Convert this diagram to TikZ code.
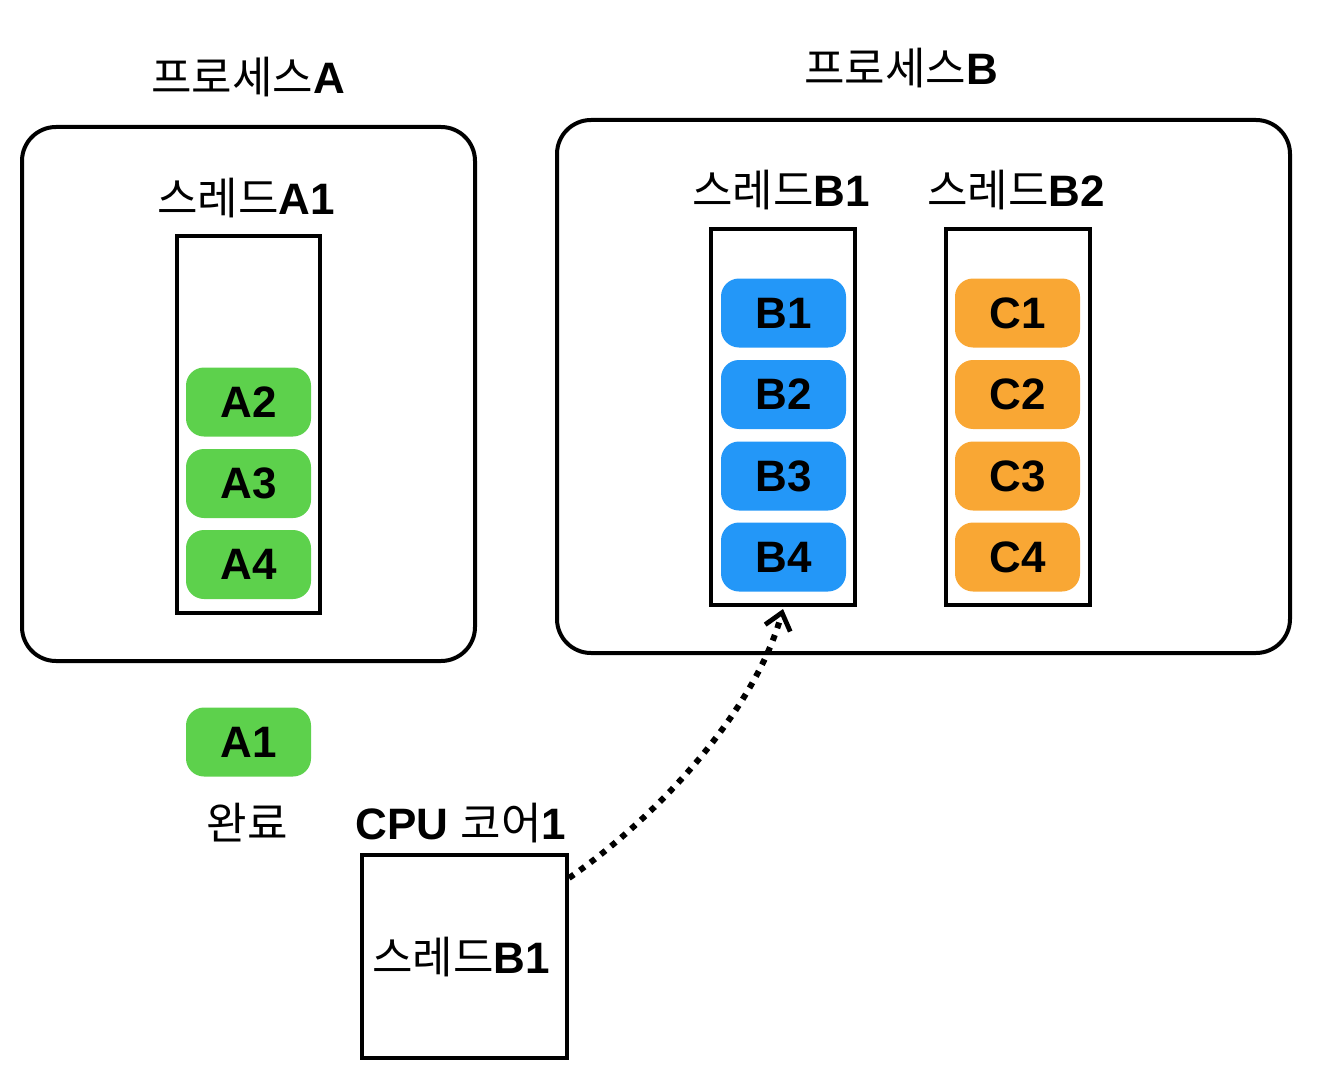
\documentclass[tikz,border=0pt]{standalone}
\usepackage{fontspec}
\setmainfont{Liberation Sans}
\newfontfamily\kr{Noto Sans CJK KR}
\newcommand{\K}[1]{{\kr\mdseries #1}}
\usetikzlibrary{arrows.meta}
\definecolor{gA}{HTML}{5DD14C}
\definecolor{bB}{HTML}{2397F8}
\definecolor{oC}{HTML}{F9A734}
\tikzset{
  lbl/.style={font=\fontsize{22}{26}\selectfont\bfseries, inner sep=0pt},
  procbox/.style={draw, line width=2pt, rounded corners=17pt, inner sep=0pt},
  thbox/.style={draw, line width=2pt, inner sep=0pt, minimum width=72pt, minimum height=188pt},
  pill/.style={rounded corners=9pt, inner sep=0pt, minimum width=62.5pt, minimum height=34.5pt,
    font=\fontsize{22}{26}\selectfont\bfseries},
  pillA/.style={pill, fill=gA},
  pillB/.style={pill, fill=bB},
  pillC/.style={pill, fill=oC},
}
\begin{document}
\begin{tikzpicture}[x=0.5pt,y=-0.5pt]
\useasboundingbox (0,0) rectangle (1318,1070);
% process A
\node[procbox, minimum width=226.5pt, minimum height=267pt] (pA) at (248.5,394) {};
\node[lbl] (tA) at (248,77) {\K{프로세스}A};
\node[lbl] (ttA1) at (246,198) {\K{스레드}A1};
\node[thbox, minimum width=71.5pt, minimum height=188.5pt] (thA1) at (248.5,424.5) {};
\node[pillA] (A2) at (248.5,402) {A2};
\node[pillA] (A3) at (248.5,483.5) {A3};
\node[pillA] (A4) at (248.5,564.5) {A4};
% process B
\node[procbox, minimum width=366.5pt, minimum height=266.5pt] (pB) at (923.5,386.5) {};
\node[lbl] (tB) at (901,68) {\K{프로세스}B};
\node[lbl] (ttB1) at (781,190) {\K{스레드}B1};
\node[lbl] (ttB2) at (1016,190) {\K{스레드}B2};
\node[thbox] (thB1) at (783,417) {};
\node[thbox] (thB2) at (1017.5,417) {};
\node[pillB] (B1) at (783.5,313) {B1};
\node[pillB] (B2) at (783.5,394.5) {B2};
\node[pillB] (B3) at (783.5,476) {B3};
\node[pillB] (B4) at (783.5,557) {B4};
\node[pillC] (C1) at (1017.5,313) {C1};
\node[pillC] (C2) at (1017.5,394.5) {C2};
\node[pillC] (C3) at (1017.5,476) {C3};
\node[pillC] (C4) at (1017.5,557) {C4};
% done
\node[pillA] (A1) at (248.5,742) {A1};
\node[lbl] (done) at (247,823) {\K{완료}};
% CPU
\node[lbl] (cpuT) at (461,823) {CPU \K{코어}1};
\node[draw, line width=2pt, inner sep=0pt, minimum width=102.5pt, minimum height=101.5pt] (cpu) at (464.5,956.5) {};
\node[lbl] (cpuTh) at (461,957) {\K{스레드}B1};
\coordinate (s) at ([yshift=-12.5pt]cpu.north east);
\draw[line width=3pt, dash pattern=on 3pt off 3.6pt, -{Straight Barb[length=8pt,width=13pt,line width=2.4pt]}]
  (s) .. controls (660,815) and (755,710) .. ([yshift=-1pt]thB1.south);
\end{tikzpicture}
\end{document}
